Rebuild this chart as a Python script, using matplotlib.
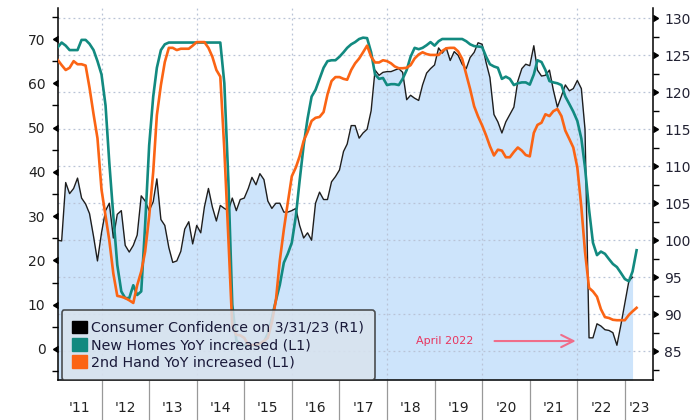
import numpy as np
import pandas as pd
import matplotlib
matplotlib.use('Agg')
import matplotlib.pyplot as plt
import matplotlib.patches as mpatch
import matplotlib.dates as mdates

# monthly values, Feb 2011 onwards
confidence = [100, 99.9, 107.8, 106.3, 107, 108.4, 105.7, 104.9, 103.6, 100.5, 97.2,
              101, 104, 105, 100.3, 103.5, 104, 99.3, 98.4, 99.3, 100.7, 106, 105.3,
              104, 105.2, 108.3, 102.8, 102, 99, 97, 97.2, 98.5, 101.5, 102.5, 99.5,
              102, 101, 104.5, 107, 104.5, 102.6, 104.7, 104.3, 104, 105.7, 104, 105.5,
              105.7, 107, 108.5, 107.5, 109, 108.2, 105.3, 104.3, 105, 105, 103.8, 103.8,
              104, 104.3, 102, 100.3, 101, 100, 105, 106.5, 105.5, 105.5, 107.9, 108.6,
              109.5, 112, 113, 115.5, 115.5, 113.8, 114.5, 115, 117.5, 123, 122.3, 122.7,
              122.8, 122.8, 123, 123.2, 122.7, 119, 119.6, 119.2, 118.9, 121, 122.6, 123.2,
              123.7, 126, 125.3, 126, 124.3, 125.5, 125, 123.8, 123.2, 124.7, 125.4, 126.7,
              126.5, 124, 122, 117, 116, 114.5, 116, 117, 118, 121.5, 123.2, 123.8,
              123.6, 126.3, 123, 122.2, 122.3, 123, 120.3, 118, 119.5, 121, 120.2, 120.5,
              121.6, 120.5, 115, 86.8, 86.8, 88.7, 88.4, 87.9, 87.8, 87.5, 85.8, 88.5, 91.5, 94.5, 95]

new_homes = [68.2, 69.2, 68.5, 67.5, 67.5, 67.5, 69.8, 69.8, 68.9, 67.5, 65,
             62, 55, 42, 30, 19, 13, 11.5, 11.5, 14.4, 12.2, 13, 28,
             46, 57, 63.5, 67.5, 68.8, 69.2, 69.2, 69.2, 69.2, 69.2, 69.2, 69.2,
             69.2, 69.2, 69.2, 69.2, 69.2, 69.2, 69.2, 60, 38, 10, 2, 1,
             0.8, 0.8, 0.8, 0.8, 1, 1.5, 3.5, 7, 11, 14.5, 19.5, 21.5,
             24, 30, 38, 46, 52, 57, 58.5, 61, 63.5, 65, 65.2, 65.2,
             66, 67, 68, 68.8, 69.3, 70, 70.3, 70.2, 67, 62, 61, 61.2,
             59.6, 59.8, 59.8, 59.6, 61, 63, 66, 68, 67.7, 68, 68.6, 69.3,
             68.5, 69.5, 70, 70, 70, 70, 70, 70, 69.5, 68.8, 68.4, 68.3,
             68.2, 66, 64.3, 63.8, 63.5, 61, 61.5, 61, 59.6, 60, 60.2, 60.2,
             59.7, 62, 65.2, 64.8, 63, 60.5, 60.2, 60, 59.6, 57, 55.3, 53.6,
             51.5, 47.5, 41, 31.5, 24, 21.2, 22, 21.5, 20.3, 19.2, 18.5, 17.2, 15.8, 15.3, 17.5, 22.3]

second_hand = [65.2, 64.1, 63, 63.5, 65, 64.3, 64.3, 64, 59, 53, 47.6,
               36, 30, 24.5, 17, 12, 11.8, 11.5, 11, 10.4, 14.4, 17.5, 22,
               30, 40, 52.8, 59.6, 64.8, 68, 68, 67.5, 67.8, 67.8, 67.8, 68.5,
               69.3, 69.3, 69.3, 68, 66, 63, 61.5, 45, 25, 5, 3.2, 3.1,
               2.5, 0.9, 0.9, 0.9, 1.2, 1.8, 2.5, 6, 11, 20, 27, 33,
               39, 41, 43.5, 47, 49, 51.5, 52.2, 52.4, 53.5, 57.5, 60.5, 61.4,
               61.4, 61, 60.8, 63, 64.5, 65.6, 67, 68.5, 66, 64.7, 64.7, 65.2,
               65, 64.5, 63.8, 63.4, 63.4, 63.5, 64.1, 65.6, 66.5, 67, 66.6, 66.4,
               66.4, 66.4, 67.3, 67.9, 68, 68, 67.2, 65.5, 62, 58.7, 54.8, 52.5,
               50.5, 48.2, 45.8, 43.7, 45, 44.8, 43.3, 43.3, 44.5, 45.5, 44.8, 43.8,
               43.5, 48.8, 50.6, 51.1, 53, 52.6, 53.7, 54.2, 52.6, 49.3, 47.4, 45.5,
               41, 32, 22, 13.8, 13, 11.8, 9, 7.2, 7, 6.6, 6.5, 6.5, 6.5, 7.7, 8.5, 9.3]

year_labels = ["'11", "'12", "'13", "'14", "'15", "'16", "'17",
               "'18", "'19", "'20", "'21", "'22", "'23"]
legend_labels = ['Consumer Confidence on 3/31/23 (R1)',
                 'New Homes YoY increased (L1)',
                 '2nd Hand YoY increased (L1)']

teal = '#128a80'
orange = '#fb6414'
fill_blue = '#cde4fb'
grid_col = '#b9c3d6'

dates = pd.date_range('2011-02-01', periods=len(new_homes), freq='MS')
x = mdates.date2num(dates.to_pydatetime())
xc = x[:len(confidence)]

x_left = x[0]
x_right = mdates.date2num(pd.Timestamp('2023-08-05').to_pydatetime())
left_lim = (-7, 77)
right_lim = (81.1, 131.4)

fig = plt.figure(figsize=(7, 4.2), dpi=100)
ax = fig.add_axes([58/700, 40/420, 595/700, 372/420])
ax2 = ax.twinx()
ax.set_zorder(ax2.get_zorder() + 1)
ax.patch.set_visible(False)

# right axis: consumer confidence area
ax2.fill_between(xc, confidence, right_lim[0], color=fill_blue, lw=0, zorder=1)
ax2.plot(xc, confidence, color='#1e1e1e', lw=1.0, zorder=2)
ax2.set_ylim(right_lim)
ax2.set_yticks(np.arange(85, 131, 5))
ax2.set_yticks(np.arange(82.5, 131, 5), minor=True)
ax2.yaxis.grid(True, which='major', ls=(0, (1.5, 2.5)), color=grid_col, lw=0.9)
ax2.set_axisbelow('line')
for yr in range(2012, 2023, 2):
    ax2.axvline(mdates.date2num(pd.Timestamp(f'{yr}-01-01').to_pydatetime()),
                ls=(0, (1.5, 2.5)), color=grid_col, lw=0.9, zorder=1.5)

# left axis: YoY lines
ax.plot(x, new_homes, color=teal, lw=1.9, zorder=3)
ax.plot(x, second_hand, color=orange, lw=1.9, zorder=3)
ax.set_ylim(left_lim)
ax.set_xlim(x_left, x_right)
ax.set_yticks(np.arange(0, 71, 10))
ax.set_yticks(np.arange(-5, 76, 10), minor=True)

# tick triangles
ax.plot(np.zeros(8), np.arange(0, 71, 10), ls='none', marker=8, ms=5, color='black',
        transform=ax.get_yaxis_transform(), clip_on=False, zorder=5)
ax2.plot(np.ones(10), np.arange(85, 131, 5), ls='none', marker=9, ms=5, color='black',
         transform=ax2.get_yaxis_transform(), clip_on=False, zorder=5)

ax.tick_params(axis='y', which='major', length=0, pad=9, labelsize=10, labelcolor='#222222')
ax.tick_params(axis='y', which='minor', length=4, width=1, color='black')
ax2.tick_params(axis='y', which='major', length=0, pad=8, labelsize=10, labelcolor='#222233')
ax2.tick_params(axis='y', which='minor', length=4, width=1, color='black')

# x axis: year boundaries with long ticks, labels in between
jan_ticks = [mdates.date2num(pd.Timestamp(f'{yr}-01-01').to_pydatetime()) for yr in range(2012, 2024)]
label_pos = [(x_left + jan_ticks[0]) / 2]
label_pos += [mdates.date2num(pd.Timestamp(f'{yr}-07-01').to_pydatetime()) for yr in range(2012, 2023)]
label_pos += [(jan_ticks[-1] + x_right) / 2]
ax.set_xticks(jan_ticks)
ax.set_xticklabels([''] * len(jan_ticks))
ax.set_xticks(label_pos, minor=True)
ax.set_xticklabels(year_labels, minor=True)
ax.tick_params(axis='x', which='major', length=30, width=0.9, color='#999999')
ax.tick_params(axis='x', which='minor', length=0, pad=15, labelsize=10, labelcolor='#222222')

for a in (ax, ax2):
    a.spines['top'].set_visible(False)
ax.spines['right'].set_visible(False)
ax2.spines['left'].set_visible(False)
ax2.spines['bottom'].set_visible(False)
ax.spines['left'].set_linewidth(1.1)
ax.spines['bottom'].set_linewidth(1.1)
ax2.spines['right'].set_linewidth(1.1)

# April 2022 annotation
tip = mdates.date2num(pd.Timestamp('2022-01-10').to_pydatetime())
start = mdates.date2num(pd.Timestamp('2020-03-15').to_pydatetime())
ax.annotate('', xy=(tip, 1.8), xytext=(start, 1.8),
            arrowprops=dict(arrowstyle='->', color='#ef6d8a', lw=1.5, mutation_scale=22),
            zorder=4)
ax.text(mdates.date2num(pd.Timestamp('2019-03-20').to_pydatetime()), 1.8, 'April 2022',
        color='#e8365f', fontsize=8, ha='center', va='center', zorder=4)

# legend
handles = [mpatch.Patch(color='black', label=legend_labels[0]),
           mpatch.Patch(color=teal, label=legend_labels[1]),
           mpatch.Patch(color=orange, label=legend_labels[2])]
leg = ax.legend(handles=handles, loc='lower left', bbox_to_anchor=(0.006, 0.0),
                borderaxespad=0, fontsize=10.3, handlelength=1.0, handleheight=1.0,
                handletextpad=0.3, labelspacing=0.2, borderpad=0.75,
                fancybox=True, framealpha=0.85, facecolor='#d9e3ee', edgecolor='#333333',
                labelcolor='#1a1a3a')
leg.get_frame().set_linewidth(1.2)
leg.set_zorder(10)

fig.savefig('out.png', dpi=100)
